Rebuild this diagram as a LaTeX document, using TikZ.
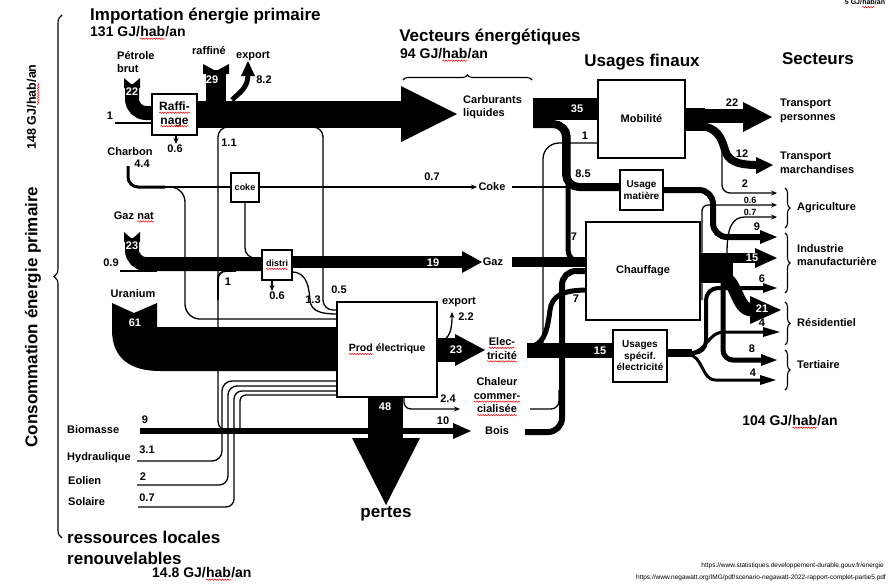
\documentclass[tikz,border=0pt]{standalone}
\usepackage{fontspec}
\setmainfont{Liberation Sans}
\usetikzlibrary{arrows.meta,decorations.pathreplacing,decorations.pathmorphing}
\newcommand\sq[1]{\tikz[baseline=(sqn.base)]{\node[shape=rectangle,inner sep=0pt,outer sep=0pt,minimum width=0pt,minimum height=0pt,draw=none,fill=none,anchor=center,align=left](sqn){#1};\draw[red,line width=0.5pt,decorate,decoration={snake,amplitude=0.7pt,segment length=2.6pt}]([yshift=-2.2pt]sqn.base west)--([yshift=-2.2pt]sqn.base east);}}
\newcommand\notch[3]{\fill (#1-#3,#2) -- (#1,#2+7) -- (#1+#3,#2) -- (#1+#3,#2+10) -- (#1-#3,#2+10) -- cycle;}
\begin{document}
\begin{tikzpicture}[x=1pt,y=-1pt,
  lab/.style={font=\fontsize{11}{13.5}\selectfont\bfseries, inner sep=0pt, align=center},
  lableft/.style={lab, align=left, anchor=west},
  wl/.style={lab, text=white},
  big/.style={font=\fontsize{17}{21}\selectfont\bfseries, inner sep=0pt, align=left},
  mid/.style={font=\fontsize{14}{16}\selectfont\bfseries, inner sep=0pt},
  box/.style={draw, line width=1.3pt, fill=white, inner sep=0pt, align=center, font=\fontsize{10.5}{12.5}\selectfont\bfseries},
  thinl/.style={line width=1.3pt},
  tip/.style={-{Stealth[length=6pt,width=5pt]}},
  brc/.style={line width=1.1pt, decorate, decoration={brace, amplitude=#1}},
  brc/.default=5pt
]
\useasboundingbox (0,0) rectangle (894,584);
\fill[white] (0,0) rectangle (894,584);

% ---------------- titles
\node[big, anchor=west] (t1) at (90,16) {Importation énergie primaire};
\node[mid, anchor=west] (t2) at (90,33) {131 GJ/\sq{hab}/an};
\node[big] (t3) at (490,37) {Vecteurs énergétiques};
\node[mid, anchor=west] (t4) at (400,55) {94 GJ/\sq{hab}/an};
\node[big] (t5) at (642,62) {Usages finaux};
\node[big] (t6) at (818,59) {Secteurs};
\node[font=\fontsize{7}{8}\selectfont\bfseries, inner sep=0pt] (t7) at (865,4) {5 GJ/\sq{hab}/an};
\node[big, rotate=90] (t8) at (33,317) {Consommation énergie primaire};
\node[font=\fontsize{12.5}{14}\selectfont\bfseries, inner sep=0pt, rotate=90] (t9) at (33,107) {148 GJ/\sq{hab}/an};
\node[big, anchor=west] (t10) at (67,548) {ressources locales\\renouvelables};
\node[mid, anchor=west] (t11) at (152,574) {14.8 GJ/\sq{hab}/an};
\node[mid] (t12) at (790,422) {104 GJ/\sq{hab}/an};
\node[big] (t13) at (386,514) {pertes};
\node[font=\fontsize{6.5}{7}\selectfont, inner sep=0pt, anchor=east] (u1) at (884,566) {https://www.statistiques.developpement-durable.gouv.fr/energie};
\node[font=\fontsize{6.5}{7}\selectfont, inner sep=0pt, anchor=east] (u2) at (886,578) {https://www.negawatt.org/IMG/pdf/scenario-negawatt-2022-rapport-complet-partie5.pdf};

% braces
\draw[brc=8pt] (62,538) -- (62,15);
\draw[brc=5pt] (403,80) -- (532,80);
\draw[brc=5pt] (785,188) -- (785,228);
\draw[brc=5pt] (785,233) -- (785,293);
\draw[brc=5pt] (785,302) -- (785,345);
\draw[brc=5pt] (785,350) -- (785,390);

% ---------------- thin connectors (under bands)
\draw[thinl] (115,123) -- (155,123);
\draw[thinl, rounded corners=10pt] (242,127) -- (218,127) -- (218,431) -- (235,431);
\draw[thinl, rounded corners=10pt] (305,127) -- (323,127) -- (323,310) -- (338,310);
\draw[line width=3pt, rounded corners=10pt] (128,166) -- (128,187) -- (165,187);
\draw[thinl] (160,187) -- (233,187);
\draw[thinl, tip] (258,187) -- (477,187);
\draw[thinl] (512,187) -- (622,187);
\draw[thinl, rounded corners=15pt] (160,187) -- (185,187) -- (185,319) -- (338,319);
\draw[thinl, rounded corners=10pt] (245,201) -- (245,258) -- (263,258);
\draw[line width=2pt] (120,271) -- (157,271);
\draw[line width=1.8pt, rounded corners=8pt] (236,271) -- (218,271) -- (218,300);
\draw[thinl] (292,272) .. controls (308,272) and (309,290) .. (310,300) .. controls (311,312) and (322,314) .. (338,314);
\draw[thinl, tip] (272,280) -- (272,291);
\draw[thinl, tip] (176,135) -- (176,144);
\draw[thinl, rounded corners=10pt] (137,461) -- (222,461) -- (222,381) -- (338,381);
\draw[thinl, rounded corners=9pt] (137,485) -- (228,485) -- (228,386) -- (338,386);
\draw[thinl, rounded corners=8pt] (138,507) -- (234,507) -- (234,391) -- (338,391);
\draw[thinl, rounded corners=6pt] (240,429) -- (240,395) -- (338,395);
\draw[thinl, tip] (440,342) .. controls (450,338) and (452,330) .. (452,312);
\draw[thinl, rounded corners=7pt, tip] (404,396) -- (404,409) -- (460,409);
\draw[thinl, rounded corners=8pt] (530,409) -- (559,409) -- (559,390);
\draw[thinl, rounded corners=16pt] (543,345) -- (543,143) -- (600,143);
\draw[thinl, rounded corners=8pt, tip] (712,130) -- (722,138) -- (722,193) -- (777,193);
\draw[thinl, rounded corners=6pt, tip] (702,300) -- (702,205) -- (777,205);
\draw[thinl, tip] (727,253) .. controls (727,228) and (732,217) .. (745,217) -- (777,217);

% ---------------- bands
% petrole brut
\draw[line width=14pt, rounded corners=14pt] (132,84) -- (132,113) -- (155,113);
\notch{132}{78}{8}
% raffine import
\draw[line width=20pt] (216,70) -- (216,110);
\notch{216}{64}{13}
% main liquid band
\draw[line width=27pt] (190,114) -- (402,114);
\fill (401,86) -- (457,114) -- (401,142) -- cycle;
% export 8.2
\draw[line width=5pt] (232,100) .. controls (240,92) and (248,88) .. (248,74);
\fill (241,76) -- (248,61) -- (255,76) -- cycle;
% carburants to usages
\fill (533,98) rectangle (600,120);
\draw[line width=8pt, rounded corners=13pt] (533,124) -- (566,124) -- (566,187) -- (622,187);
\draw[line width=5pt, rounded corners=12pt] (533,124) -- (568,124) -- (568,262) -- (588,262);
% gaz
\draw[line width=14pt, rounded corners=14pt] (132,238) -- (132,264) -- (265,264);
\notch{132}{232}{8}
\draw[line width=12pt] (290,262) -- (463,262);
\fill (462,251) -- (482,262) -- (462,273) -- cycle;
\draw[line width=10pt] (512,262) -- (588,262);
% uranium
\fill (112,303) -- (134,313) -- (157,303) -- (157,327) -- (340,327) -- (340,371) -- (160,371) .. controls (130,371) and (112,358) .. (112,330) -- cycle;
% biomasse
\draw[line width=6pt] (140,431) -- (455,431);
\fill (453,423) -- (471,431) -- (453,439) -- cycle;
% pertes
\fill (368,395) rectangle (403,440);
\fill (352,438) -- (420,438) -- (386,505) -- cycle;
% electricite
\fill (436,338) rectangle (456,362);
\fill (455,334) -- (485,350) -- (455,366) -- cycle;
\draw[line width=15pt] (527,350) -- (615,350);
\draw[line width=5pt] (533,346) .. controls (546,342) and (548,325) .. (550,310) .. controls (552,296) and (562,290) .. (588,290);
% bois
\draw[line width=6pt, rounded corners=14pt] (525,432) -- (562,432) -- (562,271) -- (588,271);
% mobilite outputs
\fill (684,108) rectangle (705,131);
\draw[line width=14pt] (684,116) -- (745,116);
\fill (743,102) -- (772,117) -- (743,132) -- cycle;
\draw[line width=8pt] (698,126) .. controls (718,126) and (722,140) .. (725,150) .. controls (728,160) and (735,165) .. (758,165);
\fill (756,157) -- (773,165) -- (756,174) -- cycle;
% usage matiere output
\draw[line width=6pt, rounded corners=14pt] (662,190) -- (713,190) -- (713,237) -- (762,237);
\fill (760,230) -- (777,237) -- (760,244) -- cycle;
% usages specifiques outputs
\draw[line width=4pt, rounded corners=12pt] (666,353) -- (706,353) -- (706,288) -- (765,288);
\fill (763,283) -- (777,288) -- (763,293) -- cycle;
\draw[line width=3pt] (688,353) .. controls (708,353) and (706,332) .. (725,332) -- (765,332);
\fill (763,327) -- (780,332) -- (763,337) -- cycle;
\draw[line width=3pt] (688,354) .. controls (703,356) and (702,380) .. (715,380) -- (760,380);
\fill (760,375) -- (776,380) -- (760,385) -- cycle;
\draw[line width=8pt] (666,353) -- (692,353);
% chauffage outputs
\fill (699,253) rectangle (733,283);
\draw[line width=10pt] (699,258) -- (757,258);
\fill (755,248) -- (777,258) -- (755,268) -- cycle;
\draw[line width=5pt, rounded corners=10pt] (723,280) -- (723,360) -- (763,360);
\fill (761,354) -- (777,360) -- (761,366) -- cycle;
\node[lab] (v4a) at (762,323) {4};
\draw[line width=13pt] (718,276) .. controls (738,276) and (735,310) .. (752,310);
\fill (750,296) -- (781,310) -- (750,324) -- cycle;

% ---------------- boxes
\node[box, font=\fontsize{12}{13.5}\selectfont\bfseries, minimum width=45pt, minimum height=41pt] (raff) at (174.5,114.5) {\sq{Raffi-}\\\sq{nage}};
\node[box, font=\fontsize{9}{10}\selectfont\bfseries, minimum width=28pt, minimum height=29pt] (coke) at (245,187.5) {coke};
\node[box, font=\fontsize{9}{10}\selectfont\bfseries, minimum width=30pt, minimum height=30pt] (distri) at (277,265) {\sq{distri}};
\node[box, minimum width=100pt, minimum height=95pt] (prod) at (387,349.5) {\sq{Prod} électrique};
\node[box, font=\fontsize{11}{13}\selectfont\bfseries, minimum width=87pt, minimum height=78pt] (mob) at (641.5,119) {Mobilité};
\node[box, font=\fontsize{10}{11.5}\selectfont\bfseries, minimum width=43pt, minimum height=40pt] (umat) at (641.5,190) {Usage\\matière};
\node[box, font=\fontsize{11}{13}\selectfont\bfseries, minimum width=114pt, minimum height=98pt] (chauf) at (643,271) {Chauffage};
\node[box, font=\fontsize{10}{11.5}\selectfont\bfseries, minimum width=54pt, minimum height=52pt] (uspec) at (640,356) {Usages\\spécif.\\électricité};

% ---------------- labels
\node[lableft] (l1) at (117,62) {Pétrole\\brut};
\node[wl] (v22) at (132,92) {22};
\node[lab] (l2) at (209,51) {raffiné};
\node[wl] (v29) at (212,80) {29};
\node[lab] (l3) at (253,56) {export};
\node[lab] (v82) at (264,80) {8.2};
\node[lab] (v1a) at (110,116) {1};
\node[lab] (v06a) at (175,149) {0.6};
\node[lab] (v11) at (229,143) {1.1};
\node[lab] (l4) at (130,152) {Charbon};
\node[lab] (v44) at (142,164) {4.4};
\node[lab] (v07a) at (432,177) {0.7};
\node[lab] (l5) at (492,187) {Coke};
\node[lab] (l6) at (134,217) {Gaz \sq{nat}};
\node[wl] (v23a) at (132,246) {23};
\node[lab] (v09) at (111,263) {0.9};
\node[lab] (v1b) at (228,282) {1};
\node[lab] (v06b) at (277,296) {0.6};
\node[lab] (v13) at (313,300) {1.3};
\node[lab] (v05) at (339,290) {0.5};
\node[wl] (v19) at (433,263) {19};
\node[lab] (l7) at (493,262) {Gaz};
\node[lab] (l8) at (133,294) {Uranium};
\node[wl] (v61) at (135,323) {61};
\node[lab] (l9) at (459,302) {export};
\node[lab] (v22b) at (466,317) {2.2};
\node[wl] (v23b) at (456,350) {23};
\node[lab] (l10) at (502,350) {\sq{Elec-}\\\sq{tricité}};
\node[wl] (v48) at (385,407) {48};
\node[lab] (v24) at (448,399) {2.4};
\node[lab] (v10) at (443,421) {10};
\node[lab] (l11) at (497,397) {Chaleur\\\sq{commer-}\\\sq{cialisée}};
\node[lab] (l12) at (497,431) {Bois};
\node[lableft] (l14) at (463,107) {Carburants\\liquides};
\node[wl] (v35) at (577,109) {35};
\node[lab] (v1c) at (585,136) {1};
\node[lab] (v85) at (583,174) {8.5};
\node[lab] (v7a) at (574,237) {7};
\node[lab] (v7b) at (576,299) {7};
\node[wl] (v15a) at (600,351) {15};
\node[lableft] (l15) at (67,430) {Biomasse};
\node[lab] (v9) at (145,420) {9};
\node[lableft] (l16) at (67,458) {Hydraulique};
\node[lab] (v31) at (147,450) {3.1};
\node[lableft] (l17) at (68,481) {Eolien};
\node[lab] (v2a) at (143,477) {2};
\node[lableft] (l18) at (68,502) {Solaire};
\node[lab] (v07b) at (147,498) {0.7};
% right side
\node[lab] (v22c) at (732,103) {22};
\node[lab] (v12) at (742,154) {12};
\node[lab] (v2b) at (745,184) {2};
\node[font=\fontsize{9}{10}\selectfont\bfseries, inner sep=0pt] (v06c) at (750,200) {0.6};
\node[font=\fontsize{9}{10}\selectfont\bfseries, inner sep=0pt] (v07c) at (750,212) {0.7};
\node[lab] (v9b) at (757,227) {9};
\node[wl] (v15b) at (752,258) {15};
\node[lab] (v6) at (762,279) {6};
\node[wl] (v21) at (762,309) {21};
\node[lab] (v8) at (752,349) {8};
\node[lab] (v4b) at (753,373) {4};
\node[lableft] (s1) at (780,111) {Transport\\personnes};
\node[lableft] (s2) at (780,163) {Transport\\marchandises};
\node[lableft] (s3) at (797,208) {Agriculture};
\node[lableft] (s4) at (797,255) {Industrie\\manufacturière};
\node[lableft] (s5) at (797,323) {Résidentiel};
\node[lableft] (s6) at (797,365) {Tertiaire};
\end{tikzpicture}
\end{document}
